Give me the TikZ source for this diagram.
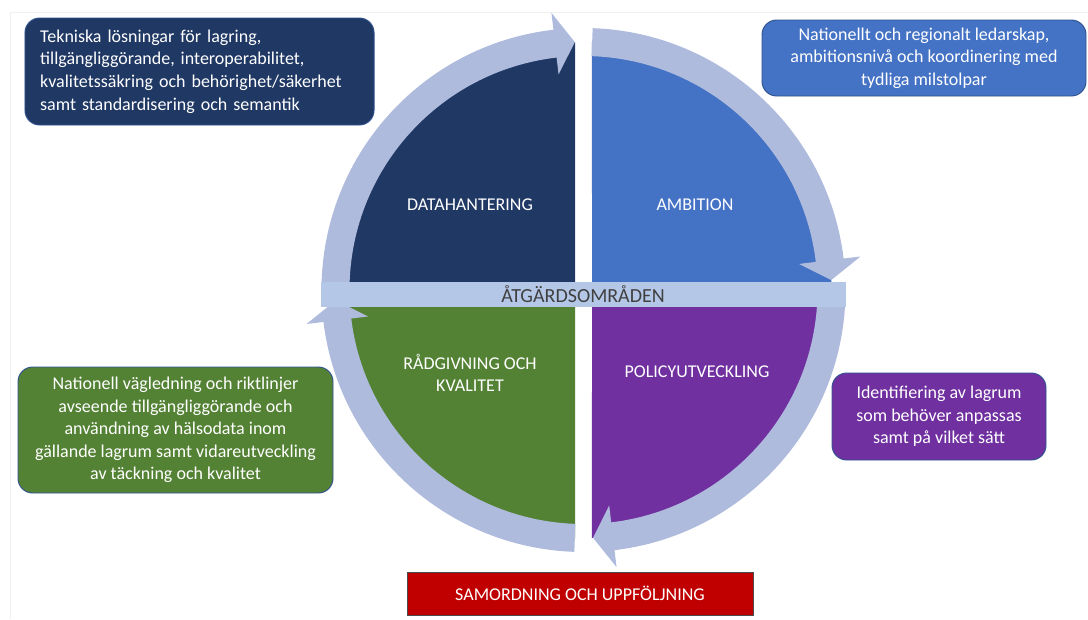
\documentclass[tikz,border=0pt]{standalone}
\usepackage{fontspec}
\setmainfont{Carlito}
\definecolor{navy}{RGB}{32,56,100}
\definecolor{officeblue}{RGB}{68,114,196}
\definecolor{leafgreen}{RGB}{84,130,53}
\definecolor{plum}{RGB}{112,48,160}
\definecolor{ringblue}{RGB}{175,187,221}
\definecolor{barblue}{RGB}{180,199,231}
\definecolor{boxline}{RGB}{47,82,143}
\definecolor{darkred}{RGB}{192,0,0}
\tikzset{
  ringpart/.style={fill=ringblue},
  quadtext/.style={text=white, font=\fontsize{13.5}{16.5}\selectfont, align=center},
  infobox/.style={rounded corners=11pt, draw=boxline, line width=0.7pt, text=white,
    font=\fontsize{13.5}{16.9}\selectfont, align=center, inner sep=0pt},
  areabar/.style={fill=barblue, text=black!75, font=\fontsize{15}{18}\selectfont,
    minimum width=393.75pt, minimum height=18.75pt, inner sep=0pt},
}
\begin{document}
\begin{tikzpicture}[x=0.75pt,y=0.75pt,yscale=-1]
\useasboundingbox (0,0) rectangle (1088,619);
%faint frame of the screenshot
\draw[black!6] (10,619) -- (10,12) -- (1088,12);

\begin{scope}[shift={(583.5,290)}]
%Quadrants
\fill[navy] (-8.5,-8) -- (181.85:248) arc[start angle=181.85,end angle=268.04,radius=248] -- cycle;
\fill[officeblue] (8.5,-8) -- (271.96:248) arc[start angle=271.96,end angle=358.15,radius=248] -- cycle;
\fill[plum] (8.5,17) -- (3.93:248) arc[start angle=3.93,end angle=88.04,radius=248] -- cycle;
\fill[leafgreen] (-8.5,17) -- (91.96:248) arc[start angle=91.96,end angle=176.07,radius=248] -- cycle;

%Cycle arrows round the pie
\foreach \s/\t in {180/268,272/357.7,360/447.8,452/537.6}{
  \pgfmathsetmacro\b{\t-4.6}
  \fill[ringpart] (\s:262) arc[start angle=\s,end angle=\b,radius=262]
    -- (\b:279) -- (\t:248) -- (\b:217) -- (\b:234)
    arc[start angle=\b,end angle=\s,radius=234] -- cycle;
}
\end{scope}

% Bar across the middle
\node[areabar] (areas) at (583,294.5) {ÅTGÄRDSOMRÅDEN};

% Quadrant titles
\node[quadtext] (data) at (470,205) {DATAHANTERING};
\node[quadtext] (ambition) at (695,205) {AMBITION};
\node[quadtext] (advice) at (470,372.5) {RÅDGIVNING OCH\\KVALITET};
\node[quadtext] (policy) at (697,372) {POLICYUTVECKLING};

% Text boxes
\node[infobox, fill=navy, align=left, text width=239pt, inner xsep=11.4pt, minimum height=80.25pt] (datanote) at (199.5,71.5)
  {Tekniska lösningar för lagring,\\tillgängliggörande, interoperabilitet,\\kvalitetssäkring och behörighet/säkerhet\\samt standardisering och semantik};
\node[infobox, fill=officeblue, minimum width=243pt, minimum height=57pt] (ambitionnote) at (924,58)
  {Nationellt och regionalt ledarskap,\\ambitionsnivå och koordinering med\\tydliga milstolpar};
\node[infobox, fill=leafgreen, minimum width=236.25pt, minimum height=94.5pt] (advicenote) at (175.5,430)
  {Nationell vägledning och riktlinjer\\avseende tillgängliggörande och\\användning av hälsodata inom\\gällande lagrum samt vidareutveckling\\av täckning och kvalitet};
\node[infobox, fill=plum, minimum width=160.5pt, minimum height=65.25pt] (policynote) at (939,416.5)
  {Identifiering av lagrum\\som behöver anpassas\\samt på vilket sätt};
\node[fill=darkred, draw=black!70, line width=0.7pt, text=white, font=\fontsize{13.5}{16.5}\selectfont,
  minimum width=259.5pt, minimum height=32.25pt, inner sep=0pt] (followup) at (580,593.5)
  {SAMORDNING OCH UPPFÖLJNING};

\end{tikzpicture}
\end{document}
